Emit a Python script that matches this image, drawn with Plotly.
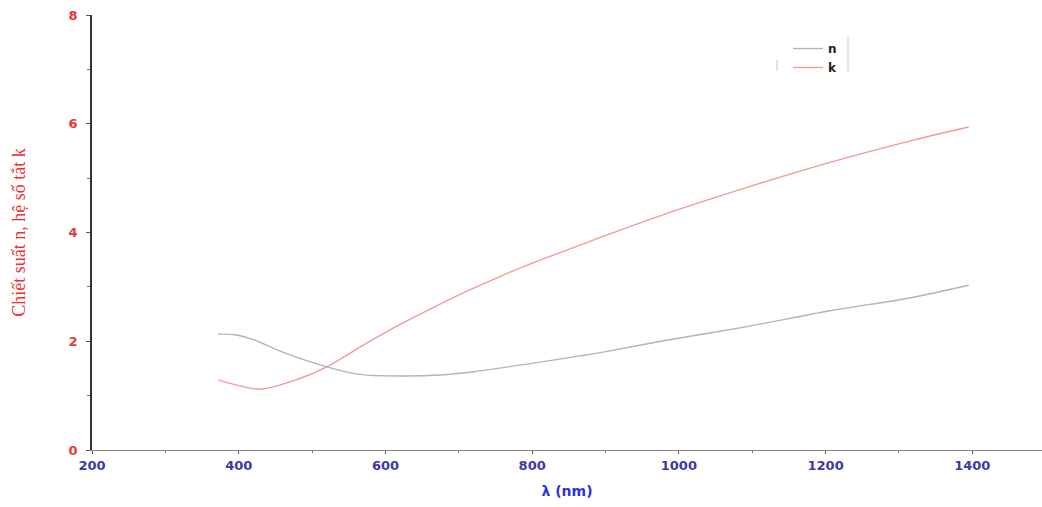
import plotly.graph_objects as go

# Wavelength samples (nm) and optical constants
wl_n = [372, 395, 420, 460, 520, 565, 620, 675, 720, 793, 865, 893, 979, 1093, 1206, 1320, 1395]
n_vals = [2.13, 2.12, 2.03, 1.80, 1.53, 1.39, 1.36, 1.38, 1.44, 1.58, 1.73, 1.79, 2.01, 2.27, 2.56, 2.81, 3.03]

wl_k = [372, 429, 484, 520, 575, 620, 665, 711, 756, 801, 848, 893, 979, 1093, 1206, 1320, 1395]
k_vals = [1.29, 1.12, 1.32, 1.53, 1.97, 2.31, 2.62, 2.92, 3.19, 3.44, 3.68, 3.91, 4.33, 4.83, 5.29, 5.70, 5.94]

x_ticks = [200, 400, 600, 800, 1000, 1200, 1400]
y_ticks = [0, 2, 4, 6, 8]

fig = go.Figure()
fig.add_trace(go.Scatter(x=wl_n, y=n_vals, mode="lines", name="n",
                         line=dict(color="#b4b4b4", width=1.4, shape="spline", smoothing=0.8)))
fig.add_trace(go.Scatter(x=wl_k, y=k_vals, mode="lines", name="k",
                         line=dict(color="#f29a9a", width=1.4, shape="spline", smoothing=0.8)))

W, H = 1042, 507
ml, mr, mt, mb = 92, 0, 15, 57
pw, ph = W - ml - mr, H - mt - mb

fig.update_layout(
    width=W, height=H,
    margin=dict(l=ml, r=mr, t=mt, b=mb),
    paper_bgcolor="white", plot_bgcolor="white",
    font=dict(family="DejaVu Sans, Arial, sans-serif"),
    legend=dict(x=(788 - ml) / pw, y=1 - (34 - mt) / ph,
                xanchor="left", yanchor="top",
                bgcolor="rgba(0,0,0,0)", borderwidth=0,
                font=dict(size=12, color="#222222", weight="bold"),
                tracegroupgap=0, itemwidth=30),
    xaxis=dict(
        range=[200, 1495], tickvals=x_ticks, ticktext=[str(v) for v in x_ticks],
        showline=True, linecolor="#8a8a8a", linewidth=1,
        ticks="outside", ticklen=3, tickcolor="#555555",
        minor=dict(dtick=100, tick0=200, ticks="outside", ticklen=2, tickcolor="#777777"),
        showgrid=False, zeroline=False,
        tickfont=dict(size=13, color="#3a3aa8", weight="bold"),
        title=dict(text="λ (nm)", font=dict(size=14, color="#3030e0", weight="bold"), standoff=14),
    ),
    yaxis=dict(
        range=[0, 8], tickvals=y_ticks,
        showline=True, linecolor="#333333", linewidth=1.5,
        ticks="outside", ticklen=4, tickcolor="#555555",
        minor=dict(dtick=1, ticks="outside", ticklen=3, tickcolor="#777777"),
        showgrid=False, zeroline=False,
        ticklabelstandoff=6,
        tickfont=dict(size=13, color="#e83838", weight="bold"),
        title=dict(text="Chiết suất n, hệ số tắt k",
                   font=dict(size=18, color="#ee3030", family="Liberation Serif, Times New Roman, serif"),
                   standoff=38),
    ),
)

# Light frame pieces around the legend
fig.add_shape(type="line", xref="paper", yref="paper",
              x0=(848 - ml) / pw, x1=(848 - ml) / pw,
              y0=1 - (36 - mt) / ph, y1=1 - (71 - mt) / ph,
              line=dict(color="#c8c8c8", width=1))
fig.add_shape(type="line", xref="paper", yref="paper",
              x0=(777 - ml) / pw, x1=(777 - ml) / pw,
              y0=1 - (60 - mt) / ph, y1=1 - (71 - mt) / ph,
              line=dict(color="#c8c8c8", width=1))

fig.write_html("out.html")
